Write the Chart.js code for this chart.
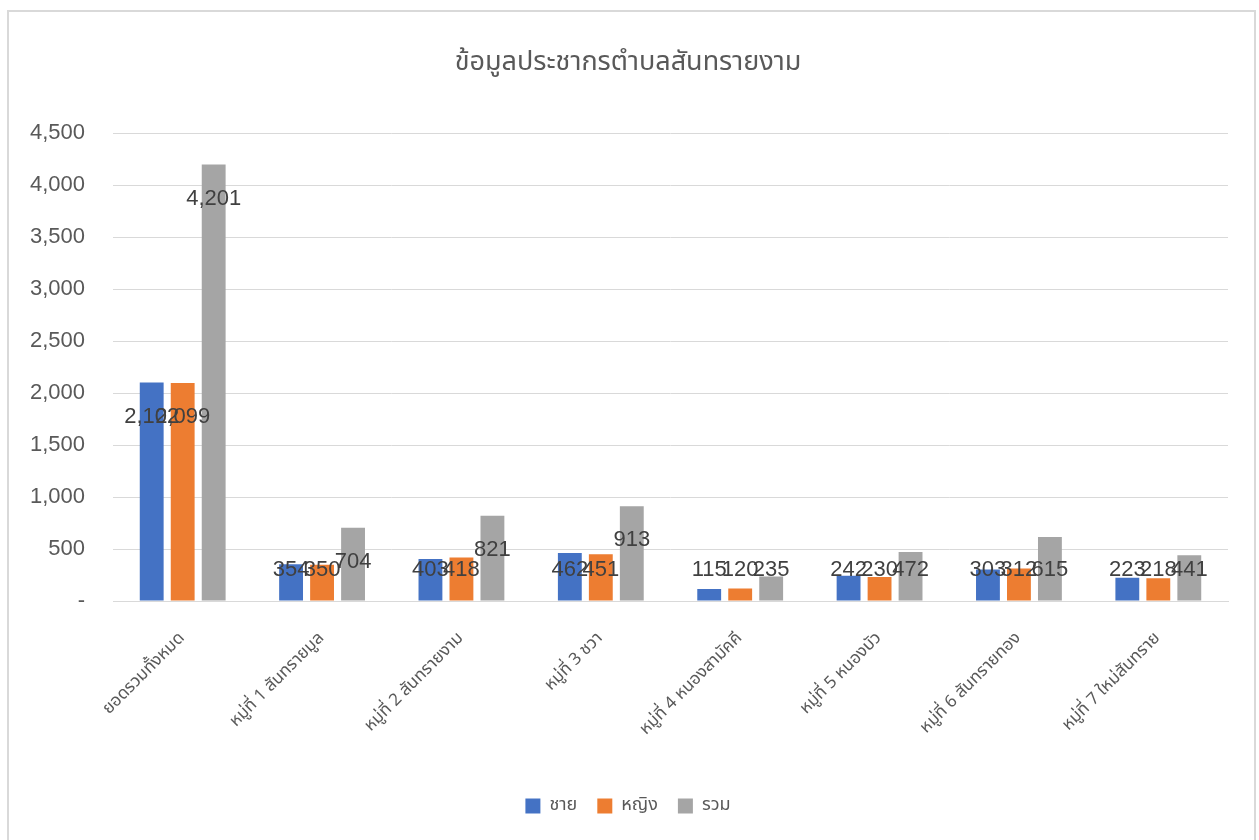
<!DOCTYPE html>
<html>
<head>
<meta charset="utf-8">
<script src="https://cdn.jsdelivr.net/npm/chart.js@4.4.1/dist/chart.umd.min.js"></script>
<style>
  html, body { margin: 0; padding: 0; background: #ffffff; }
  #wrap { position: relative; width: 1259px; height: 840px; }
</style>
</head>
<body>
<div id="wrap"><canvas id="c" width="1259" height="840"></canvas></div>
<script>
const chartTitle = 'ข้อมูลประชากรตำบลสันทรายงาม';
const categories = [
  'ยอดรวมทั้งหมด',
  'หมู่ที่ 1 สันทรายมูล',
  'หมู่ที่ 2 สันทรายงาม',
  'หมู่ที่ 3 ชวา',
  'หมู่ที่ 4 หนองสามัคคี',
  'หมู่ที่ 5 หนองบัว',
  'หมู่ที่ 6 สันทรายทอง',
  'หมู่ที่ 7 ใหม่สันทราย'
];
const seriesNames = ['ชาย', 'หญิง', 'รวม'];
const male   = [2102, 354, 403, 462, 115, 242, 303, 223];
const female = [2099, 350, 418, 451, 120, 230, 312, 218];
const total  = [4201, 704, 821, 913, 235, 472, 615, 441];
const yTickValues = [0, 500, 1000, 1500, 2000, 2500, 3000, 3500, 4000, 4500];
const yTickLabels = ['-', '500', '1,000', '1,500', '2,000', '2,500', '3,000', '3,500', '4,000', '4,500'];

const colors = ['#4472C4', '#ED7D31', '#A5A5A5'];
const txt = '#595959';
const numFont = '"Liberation Sans", Arial, sans-serif';
const thaiFont = '"Noto Sans Thai", "Noto Sans", "DejaVu Sans", sans-serif';

const borderPlugin = {
  id: 'frame',
  beforeDraw(chart) {
    const ctx = chart.ctx;
    ctx.save();
    ctx.strokeStyle = '#d9d9d9';
    ctx.lineWidth = 2;
    ctx.strokeRect(8, 11, 1247, 840);
    ctx.restore();
  }
};

const labelPlugin = {
  id: 'valueLabels',
  afterDatasetsDraw(chart) {
    const ctx = chart.ctx;
    ctx.save();
    ctx.font = '22px ' + numFont;
    ctx.fillStyle = '#404040';
    ctx.textAlign = 'center';
    ctx.textBaseline = 'middle';
    chart.data.datasets.forEach((ds, di) => {
      const meta = chart.getDatasetMeta(di);
      meta.data.forEach((bar, i) => {
        const v = ds.data[i];
        const y = Math.min(bar.y + 34, bar.base - 31);
        ctx.fillText(v.toLocaleString('en-US'), bar.x, y);
      });
    });
    ctx.restore();
  }
};

new Chart(document.getElementById('c'), {
  type: 'bar',
  data: {
    labels: categories,
    datasets: [
      { label: seriesNames[0], data: male, backgroundColor: colors[0] },
      { label: seriesNames[1], data: female, backgroundColor: colors[1] },
      { label: seriesNames[2], data: total, backgroundColor: colors[2] }
    ]
  },
  options: {
    responsive: false,
    animation: false,
    devicePixelRatio: 1,
    datasets: { bar: { categoryPercentage: 0.667, barPercentage: 0.77 } },
    layout: { padding: { left: 28, right: 31, top: 0, bottom: 15 } },
    plugins: {
      title: {
        display: true,
        text: chartTitle,
        color: txt,
        font: { family: thaiFont, size: 27, weight: 'normal' },
        padding: { top: 48, bottom: 53 }
      },
      legend: {
        display: true,
        position: 'bottom',
        labels: {
          color: txt,
          boxWidth: 15,
          boxHeight: 15,
          padding: 20,
          font: { family: thaiFont, size: 18 }
        }
      },
      tooltip: { enabled: false }
    },
    scales: {
      x: {
        grid: { display: false },
        border: { display: true, color: '#d9d9d9', width: 1 },
        ticks: {
          color: txt,
          font: { family: thaiFont, size: 17 },
          minRotation: 45,
          maxRotation: 45,
          padding: 20,
          autoSkip: false
        },
        afterFit(scale) { scale.height = 176; }
      },
      y: {
        min: 0,
        max: 4500,
        afterBuildTicks(scale) { scale.ticks = yTickValues.map(v => ({ value: v })); },
        grid: { color: '#d9d9d9', drawTicks: false },
        border: { display: false },
        ticks: {
          color: txt,
          font: { family: numFont, size: 22 },
          padding: 28,
          callback(value) {
            const idx = yTickValues.indexOf(value);
            return idx >= 0 ? yTickLabels[idx] : '';
          }
        },
        afterFit(scale) { scale.width = 85; }
      }
    }
  },
  plugins: [borderPlugin, labelPlugin]
});
</script>
</body>
</html>
